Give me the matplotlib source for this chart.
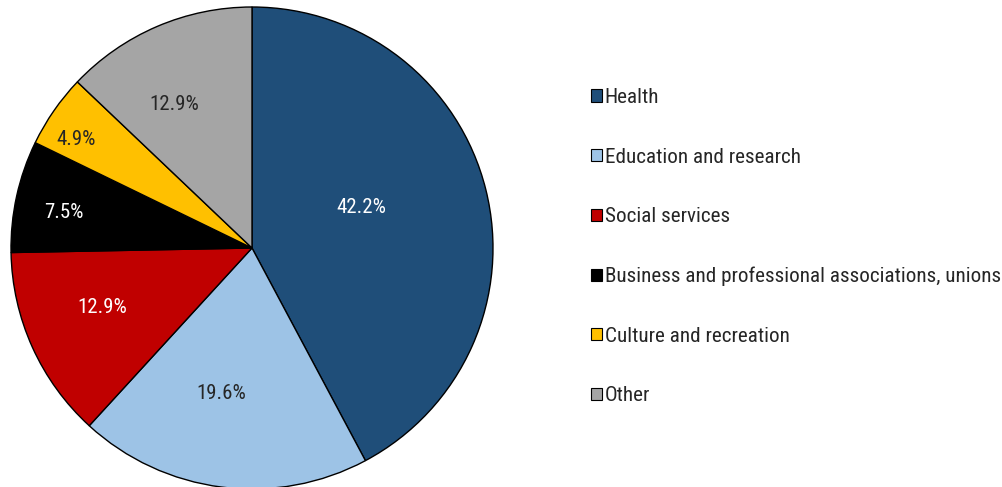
import matplotlib.pyplot as plt
import numpy as np
from matplotlib.patches import Patch

plt.rcParams['font.family'] = ['Roboto Condensed', 'Liberation Sans Narrow', 'Roboto', 'DejaVu Sans']

categories = ['Health', 'Education and research', 'Social services',
              'Business and professional associations, unions',
              'Culture and recreation', 'Other']
shares = [42.2, 19.6, 12.9, 7.5, 4.9, 12.9]
colors = ['#1F4E79', '#9DC3E6', '#C00000', '#000000', '#FFC000', '#A5A5A5']
text_colors = ['white', '#262626', 'white', 'white', '#262626', '#262626']
# label placement: fraction along the wedge (from its start edge) and radius
label_frac = [0.451, 0.570, 0.569, 0.462, 0.356, 0.393]
label_r = [0.486, 0.611, 0.668, 0.796, 0.863, 0.685]

fig = plt.figure(figsize=(10.02, 4.87), dpi=100)
W, H = 1002, 487
cx, cy, r = 252, 487 - 248, 241
ax = fig.add_axes([(cx - r) / W, (cy - r) / H, 2 * r / W, 2 * r / H])

wedges, _ = ax.pie(shares, colors=colors, startangle=90, counterclock=False,
                   radius=1, wedgeprops=dict(edgecolor='black', linewidth=1.0))
ax.set_xlim(-1, 1)
ax.set_ylim(-1, 1)
ax.set_aspect('equal')
ax.axis('off')

for w, val, tc, f, d in zip(wedges, shares, text_colors, label_frac, label_r):
    # clockwise pie: theta2 is the start edge
    ang = np.deg2rad(w.theta2 - f * (w.theta2 - w.theta1))
    ax.text(d * np.cos(ang), d * np.sin(ang), f'{val:.1f}%', color=tc,
            fontsize=15, ha='center', va='center_baseline')

handles = [Patch(facecolor=c, edgecolor='black', linewidth=0.8) for c in colors]
fig.legend(handles, categories, loc='upper left',
           bbox_to_anchor=(591 / W, 1 - 88 / H), frameon=False, fontsize=15.2,
           handlelength=0.5, handleheight=0.5, handletextpad=0.15,
           labelspacing=1.92, borderaxespad=0, borderpad=0, labelcolor='#262626')

fig.savefig('out.png', dpi=100)
